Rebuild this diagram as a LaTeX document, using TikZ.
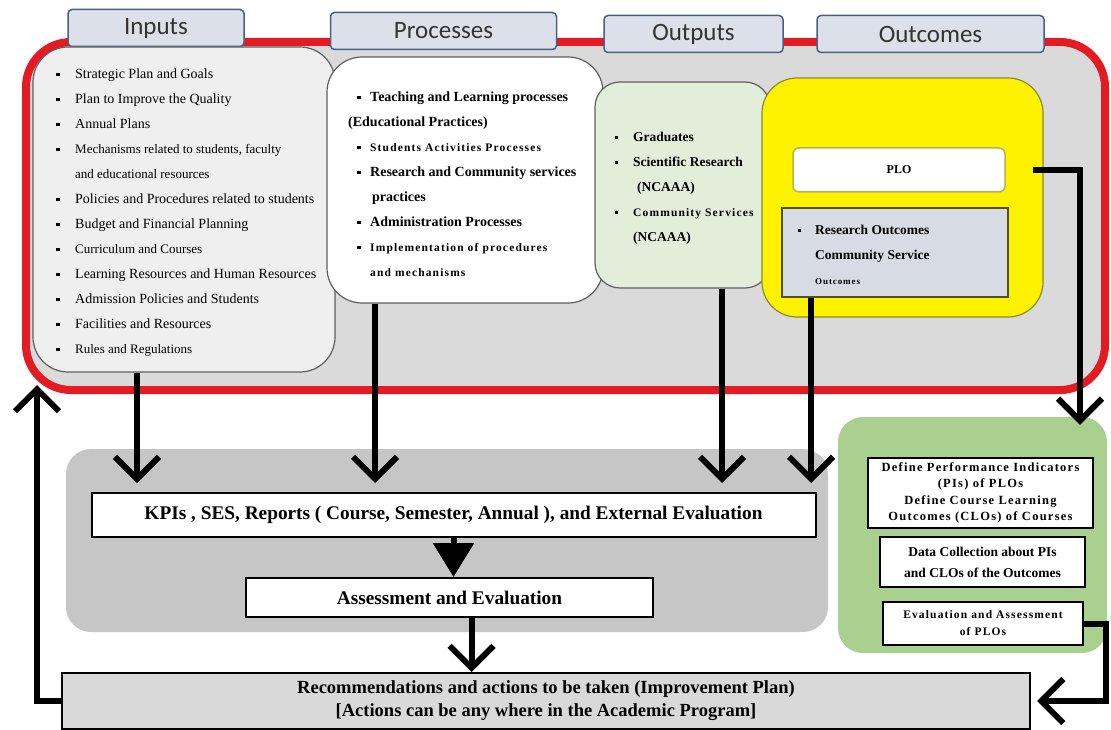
\documentclass[tikz,border=0pt]{standalone}
\usepackage{fontspec}
\setmainfont{Liberation Serif}
\newfontfamily\headfont{Carlito}
\newfontfamily\widefont[LetterSpace=10]{Liberation Serif}
\usetikzlibrary{arrows.meta,positioning}

\definecolor{framered}{HTML}{E31B23}
\definecolor{panelgray}{HTML}{DADADA}
\definecolor{inpfill}{HTML}{EFEFEF}
\definecolor{boxedge}{HTML}{5F5F5F}
\definecolor{outfill}{HTML}{E2EDDA}
\definecolor{ylwedge}{HTML}{8A8A2E}
\definecolor{ploedge}{HTML}{B5B54A}
\definecolor{resfill}{HTML}{D6DBE4}
\definecolor{resedge}{HTML}{4F4F1F}
\definecolor{headfill}{HTML}{DCE0E8}
\definecolor{headedge}{HTML}{44618A}
\definecolor{evalgray}{HTML}{C6C6C6}
\definecolor{grnfill}{HTML}{A9D08E}
\definecolor{recfill}{HTML}{D9D9D9}

% small square bullets and indents for the lists
\newcommand{\sqb}{\rule[0.2em]{0.24em}{0.24em}}
\newcommand{\bl}[1][19pt]{\makebox[#1][l]{\sqb}}
\newcommand{\pb}{\hspace*{9pt}\makebox[13pt][l]{\sqb}}
\newcommand{\sm}[1]{{\fontsize{13}{25}\selectfont #1}}
\newcommand{\wtxt}[2]{{\widefont\bfseries\fontsize{#1}{25}\selectfont #2}}

\begin{document}
\begin{tikzpicture}[x=1pt,y=-1pt,
        head/.style={
            rectangle,
            rounded corners=4pt,
            draw=headedge,
            line width=1.5pt,
            fill=headfill,
            minimum width=#1,
            minimum height=37pt,
            font=\headfont\fontsize{25}{28}\selectfont,
            text=black!80
        },
        frame/.style={
            rectangle,
            rounded corners=45pt,
            draw=framered,
            line width=8pt,
            fill=panelgray,
            minimum width=1079pt,
            minimum height=348pt
        },
        bigbox/.style={
            rectangle,
            rounded corners=35pt,
            draw=boxedge,
            line width=1.2pt
        },
        plainbox/.style={
            rectangle,
            draw=black,
            line width=2pt,
            fill=white,
            align=center,
            font=\bfseries
        },
        listtext/.style={
            inner sep=0pt,
            align=left,
            font=\fontsize{14}{25}\selectfont
        },
        bigarrow/.style={line width=6pt, -{Straight Barb[length=22pt,width=44pt]}},
        fatarrow/.style={line width=6pt, -{Triangle[length=34pt,width=40pt]}}
    ]

    \path[use as bounding box, fill=white] (0,0) rectangle (1111,730);

    % Red frame with the four columns
    \node[frame] (frm) at (565.5,216) {};

    % Column titles
    \node[head=176pt] (hin) at (156,28) {Inputs};
    \node[head=226pt] (hpr) at (443.5,31) {Processes};
    \node[head=179pt] (hou) at (693.5,34) {Outputs};
    \node[head=227pt] (hoc) at (930.5,34) {Outcomes};

    % Column boxes
    \node[bigbox, fill=inpfill, minimum width=302pt, minimum height=325pt] (inp) at (184,209.5) {};
    \node[bigbox, fill=white, minimum width=276pt, minimum height=246pt] (prc) at (465,180) {};
    \node[bigbox, rounded corners=25pt, fill=outfill, minimum width=175pt, minimum height=206pt] (out) at (682.5,185) {};
    \node[bigbox, draw=ylwedge, fill=yellow, minimum width=281pt, minimum height=239pt] (ocm) at (902.5,197.5) {};

    % Lists
    \node[listtext, anchor=north west] (inplist) at (56,69) {%
        \bl Strategic Plan and Goals\\
        \bl Plan to Improve the Quality\\
        \bl Annual Plans\\
        \bl\sm{Mechanisms related to students, faculty}\\
        \hspace*{19pt}\sm{and educational resources}\\
        \bl Policies and Procedures related to students\\
        \bl Budget and Financial Planning\\
        \bl\sm{Curriculum and Courses}\\
        \bl Learning Resources and Human Resources\\
        \bl Admission Policies and Students\\
        \bl Facilities and Resources\\
        \bl\sm{Rules and Regulations}};

    \node[listtext, font=\bfseries\fontsize{14}{25}\selectfont, anchor=north west] (prclist) at (348,92) {%
        \pb Teaching and Learning processes\\
        (Educational Practices)\\
        \pb\wtxt{11.5}{Students Activities Processes}\\
        \pb Research and Community services\\
        \hspace*{24pt}practices\\
        \pb Administration Processes\\
        \pb\wtxt{11.5}{Implementation of procedures}\\
        \hspace*{22pt}\wtxt{11.5}{and mechanisms}};

    \node[listtext, font=\bfseries\fontsize{13.5}{25}\selectfont, anchor=north west] (outlist) at (615,132) {%
        \bl[18pt]Graduates\\
        \bl[18pt]Scientific Research\\
        \hspace*{22pt}(NCAAA)\\
        \bl[18pt]\wtxt{11.5}{Community Services}\\
        \hspace*{18pt}(NCAAA)};

    % Outcomes column
    \node[rectangle, rounded corners=6pt, draw=ploedge, line width=1.5pt, fill=white,
        minimum width=212pt, minimum height=44pt, font=\bfseries\fontsize{12}{14}\selectfont] (plo) at (899,170) {PLO};
    \node[rectangle, draw=resedge, line width=2pt, fill=resfill,
        minimum width=226pt, minimum height=89pt] (res) at (895,252.5) {};
    \node[listtext, font=\bfseries\fontsize{13.5}{25}\selectfont, anchor=north west] (reslist) at (798,225) {%
        \bl[17pt]Research Outcomes\\
        \hspace*{17pt}Community Service\\
        \hspace*{17pt}\wtxt{9}{Outcomes}};

    % Evaluation panel
    \node[rectangle, rounded corners=25pt, fill=evalgray, minimum width=762pt, minimum height=183pt] (evp) at (447,540.5) {};
    \node[plainbox, minimum width=724pt, minimum height=44pt, font=\bfseries\fontsize{19.3}{22}\selectfont] (kpi) at (453.5,515)
        {KPIs , SES, Reports ( Course, Semester, Annual ), and External Evaluation};
    \node[plainbox, minimum width=407pt, minimum height=39pt, font=\bfseries\fontsize{19.3}{22}\selectfont] (ase) at (449.5,597.5)
        {Assessment and Evaluation};

    % PLO assessment panel
    \node[rectangle, rounded corners=25pt, fill=grnfill, minimum width=269pt, minimum height=236pt] (grn) at (972.5,535) {};
    \node[plainbox, minimum width=225pt, minimum height=70pt, font=\widefont\bfseries\fontsize{12.5}{16.5}\selectfont] (pis) at (980.5,493)
        {Define Performance Indicators\\(PIs) of PLOs\\Define Course Learning\\Outcomes (CLOs) of Courses};
    \node[plainbox, minimum width=205pt, minimum height=50pt, font=\bfseries\fontsize{13.5}{21}\selectfont] (dcl) at (982.5,562)
        {Data Collection about PIs\\and CLOs of the Outcomes};
    \node[plainbox, minimum width=200pt, minimum height=43pt, font=\widefont\bfseries\fontsize{11.5}{17}\selectfont] (evb) at (983,623.5)
        {Evaluation and Assessment\\of PLOs};

    % Improvement plan
    \node[plainbox, fill=recfill, minimum width=968pt, minimum height=56pt, font=\bfseries\fontsize{18.5}{23}\selectfont] (rec) at (546,701)
        {Recommendations and actions to be taken (Improvement Plan)\\{}[Actions can be any where in the Academic Program]};

    % Arrows into the evaluation panel
    \coordinate (kin) at ([xshift=-47pt]inp.south);
    \coordinate (kpr) at ([xshift=-90pt]prc.south);
    \coordinate (kou) at ([xshift=39.5pt]out.south);
    \coordinate (kre) at ([xshift=-84pt]res.south);
    \draw[bigarrow, shorten >=9pt] (kin) -- (kin |- kpi.north);
    \draw[bigarrow, shorten >=9pt] (kpr) -- (kpr |- kpi.north);
    \draw[bigarrow, shorten >=9pt] (kou) -- (kou |- kpi.north);
    \draw[bigarrow, shorten >=9pt] (kre) -- (kre |- kpi.north);

    \draw[fatarrow] (kpi.south) -- (kpi.south |- ase.north);
    \coordinate (kas) at ([xshift=22pt]ase.south);
    \draw[bigarrow] (kas) -- (kas |- rec.north);

    % PLO to the green panel
    \coordinate (pturn) at (1080,170);
    \draw[bigarrow, shorten <=27pt, shorten >=-8pt] (plo.east) -- (pturn) -- (pturn |- grn.north);

    % Feedback loops
    \draw[bigarrow, shorten >=6pt] (evb.east) -- ++(22,0) |- (rec.east);
    \coordinate (fbtop) at (37,385);
    \draw[bigarrow] (rec.west) -| (fbtop);

\end{tikzpicture}
\end{document}
